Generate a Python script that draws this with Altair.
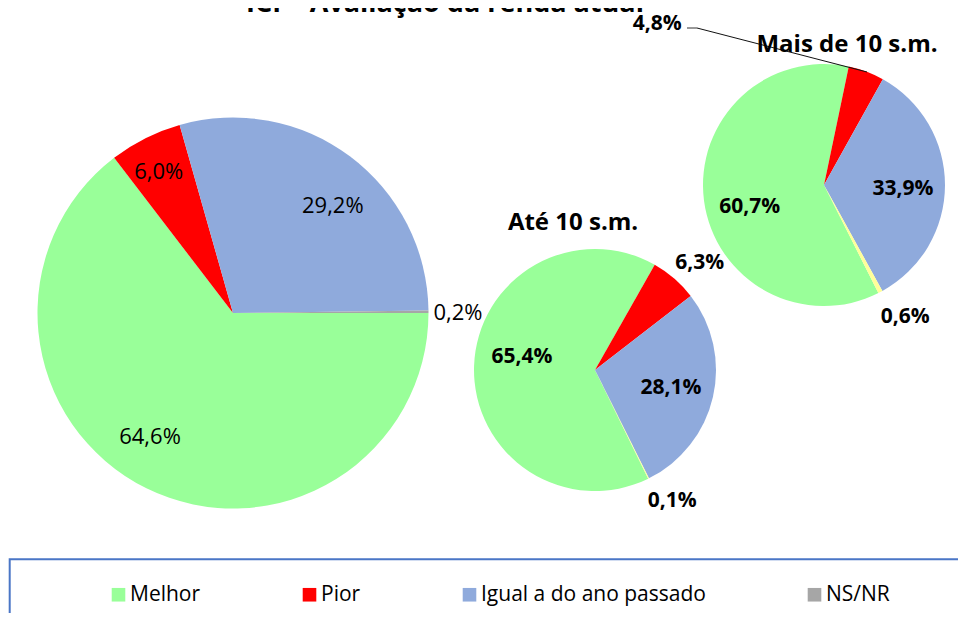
import math
import altair as alt
import pandas as pd

# ---------------- data ----------------
categories = ["Melhor", "Pior", "Igual a do ano passado", "NS/NR"]
total_values = [64.6, 6.0, 29.2, 0.2]
ate10_values = [65.4, 6.3, 28.1, 0.1]
mais10_values = [60.7, 4.8, 33.9, 0.6]

title_text = "ICF - Avaliação da renda atual"
ate10_title = "Até 10 s.m."
mais10_title = "Mais de 10 s.m."

legend_colors = ["#99FF99", "#FF0000", "#8FAADC", "#A6A6A6"]
small_colors = ["#99FF99", "#FF0000", "#8FAADC", "#FFFF99"]

FONT = "Open Sans"


def fmt(v):
    return f"{v:.1f}".replace(".", ",") + "%"


def frame(vals):
    return pd.DataFrame({
        "cat": categories,
        "value": vals,
        "idx": list(range(len(categories))),
        "label": [fmt(v) for v in vals],
    })


def theta_enc(start_deg):
    s = math.radians(start_deg)
    return alt.Theta("value:Q", stack=True,
                     scale=alt.Scale(range=[s, s + 2 * math.pi]))


def pie_layer(df, cx, cy, r, start_deg, colors, legend):
    return alt.Chart(df).mark_arc(radius=r).encode(
        theta=theta_enc(start_deg),
        color=alt.Color("cat:N", scale=alt.Scale(domain=categories, range=colors),
                        legend=legend),
        order=alt.Order("idx:Q"),
        x=alt.value(cx),
        y=alt.value(cy),
    )


def label_layer(df, cx, cy, start_deg, cat, r, dx, dy, size, weight):
    return alt.Chart(df).transform_calculate(
        txt=f"datum.cat === '{cat}' ? datum.label : ''"
    ).mark_text(
        radius=r, dx=dx, dy=dy, font=FONT, fontSize=size, fontWeight=weight,
        color="black", align="center", baseline="middle",
    ).encode(
        theta=theta_enc(start_deg),
        order=alt.Order("idx:Q"),
        text="txt:N",
        x=alt.value(cx),
        y=alt.value(cy),
    )


def text_layer(txt, x, y, size, weight="bold", baseline="middle"):
    return alt.Chart(pd.DataFrame({"t": [txt]})).mark_text(
        font=FONT, fontSize=size, fontWeight=weight, color="black",
        align="center", baseline=baseline,
    ).encode(text="t:N", x=alt.value(x), y=alt.value(y))


dummy = pd.DataFrame({"a": [0]})

legend = alt.Legend(
    orient="none", legendX=100, legendY=576, direction="horizontal", columns=4,
    title=None, symbolType="square", symbolSize=185, symbolStrokeWidth=0,
    symbolOpacity=1, labelFont=FONT, labelFontSize=21, labelColor="black",
    labelOffset=1, columnPadding=98, padding=0, labelLimit=400,
)

df_t = frame(total_values)
df_a = frame(ate10_values)
df_m = frame(mais10_values)

# centres (chart coordinates)
BX, BY, BR, BS = 225, 305, 195.5, 90
AX, AY, AR, AS = 587, 362, 121, 153.9
MX, MY, MR, MS = 816, 177, 121, 153.3

layers = [
    # legend box
    alt.Chart(dummy).mark_rect(fill="white", stroke="#4A76C6", strokeWidth=2).encode(
        x=alt.value(1.7), x2=alt.value(1000), y=alt.value(551.2), y2=alt.value(700)),
    pie_layer(df_t, BX, BY, BR, BS, legend_colors, legend),
    pie_layer(df_a, AX, AY, AR, AS, small_colors, None),
    pie_layer(df_m, MX, MY, MR, MS, small_colors, None),
    # big pie labels
    label_layer(df_t, BX, BY, BS, "Melhor", 149, -17, -9.5, 22, "normal"),
    label_layer(df_t, BX, BY, BS, "Pior", 159, -3, 1, 22, "normal"),
    label_layer(df_t, BX, BY, BS, "Igual a do ano passado", 146, 12.5, 10, 22, "normal"),
    label_layer(df_t, BX, BY, BS, "NS/NR", 225, 0, 1.5, 22, "normal"),
    # Até 10 labels
    label_layer(df_a, AX, AY, AS, "Melhor", 74, 1, -11, 21, "bold"),
    label_layer(df_a, AX, AY, AS, "Pior", 149, 7, 6, 21, "bold"),
    label_layer(df_a, AX, AY, AS, "Igual a do ano passado", 78, 0, 1, 21, "bold"),
    label_layer(df_a, AX, AY, AS, "NS/NR", 152, 10, -5, 21, "bold"),
    # Mais de 10 labels
    label_layer(df_m, MX, MY, MS, "Melhor", 77, 2, 12, 21, "bold"),
    label_layer(df_m, MX, MY, MS, "Pior", 121, -209, -48, 21, "bold"),
    label_layer(df_m, MX, MY, MS, "Igual a do ano passado", 79, 0, 4, 21, "bold"),
    label_layer(df_m, MX, MY, MS, "NS/NR", 155, 9, -5, 21, "bold"),
    # leader line for 4,8%
    alt.Chart(dummy).mark_rule(color="#333333", strokeWidth=1).encode(
        x=alt.value(679), x2=alt.value(689), y=alt.value(20), y2=alt.value(20)),
    alt.Chart(dummy).mark_rule(color="#111111", strokeWidth=1).encode(
        x=alt.value(689), x2=alt.value(859), y=alt.value(20), y2=alt.value(64)),
    # titles
    text_layer(title_text, 437, 4, 27, baseline="alphabetic"),
    text_layer(ate10_title, 565, 215, 24),
    text_layer(mais10_title, 839, 37, 24),
]

chart = alt.layer(*layers).resolve_scale(
    theta="independent", color="independent"
).properties(
    width=950, height=605, padding=0,
    autosize=alt.AutoSizeParams(type="none"),
).configure_view(stroke=None)

chart.save("out.html", embed_options={"renderer": "svg", "actions": False})
